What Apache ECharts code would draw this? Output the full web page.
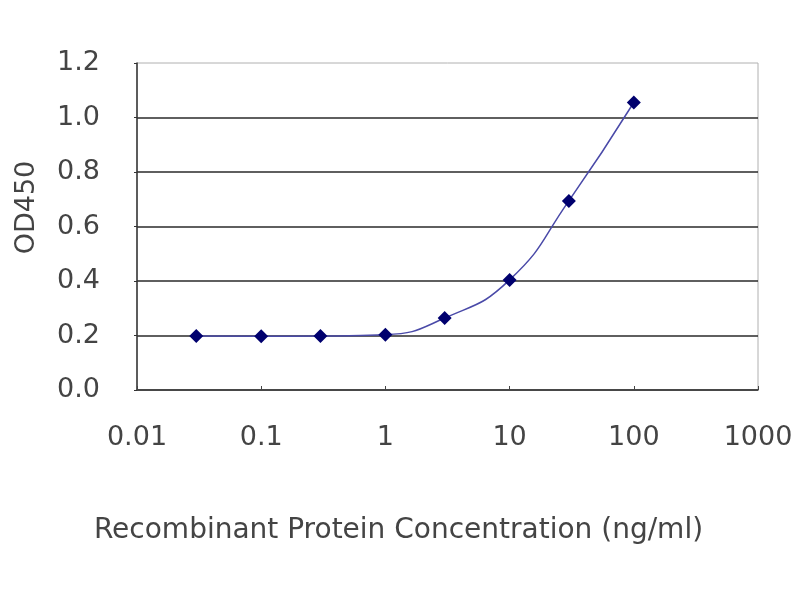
<!DOCTYPE html>
<html>
<head>
<meta charset="utf-8">
<script src="https://cdn.jsdelivr.net/npm/echarts@6/dist/echarts.min.js"></script>
<style>
  html, body { margin: 0; padding: 0; background: #fff; }
  #chart { width: 800px; height: 600px; }
</style>
</head>
<body>
<div id="chart"></div>
<script>
// concentrations (ng/ml) and OD450 readings
var concentrations = [0.03, 0.1, 0.3, 1, 3, 10, 30, 100];
var od450 = [0.198, 0.197, 0.198, 0.203, 0.264, 0.404, 0.694, 1.055];
var xTicks = [0.01, 0.1, 1, 10, 100, 1000];
var yTicks = [0, 0.2, 0.4, 0.6, 0.8, 1.0, 1.2];

var points = concentrations.map(function (c, i) { return [c, od450[i]]; });
var font = 'DejaVu Sans, Verdana, sans-serif';

var myChart = echarts.init(document.getElementById('chart'));
var option = {
    animation: false,
    backgroundColor: '#fff',
    grid: {
        left: 137, right: 42, top: 63, bottom: 210,
        show: true, borderColor: '#b0b0b0', borderWidth: 1
    },
    xAxis: {
        type: 'log',
        logBase: 10,
        min: xTicks[0],
        max: xTicks[xTicks.length - 1],
        name: 'Recombinant Protein Concentration (ng/ml)',
        nameLocation: 'middle',
        nameGap: 127,
        nameTextStyle: { fontFamily: font, fontSize: 28, color: '#444', padding: [0, 98, 0, 0] },
        axisLine: { lineStyle: { color: '#444', width: 1.5 } },
        axisTick: { inside: true, length: 4, lineStyle: { color: '#444' } },
        axisLabel: {
            fontFamily: font, fontSize: 27, color: '#444', margin: 34,
            formatter: function (v) { return String(parseFloat(v.toPrecision(6))); }
        },
        splitLine: { show: false },
        minorTick: { show: false }
    },
    yAxis: {
        type: 'value',
        min: yTicks[0],
        max: yTicks[yTicks.length - 1],
        interval: 0.2,
        name: 'OD450',
        nameLocation: 'middle',
        nameGap: 97,
        nameTextStyle: { fontFamily: font, fontSize: 27, color: '#444', padding: [0, 0, 0, 38] },
        axisLine: { show: true, lineStyle: { color: '#333', width: 1.5 } },
        axisTick: { show: true, length: 3, lineStyle: { color: '#333' } },
        axisLabel: {
            fontFamily: font, fontSize: 27, color: '#444', margin: 37,
            formatter: function (v) { return v.toFixed(1); }
        },
        splitLine: { show: true, showMaxLine: false, lineStyle: { color: '#2a2a2a', width: 1.5 } }
    },
    series: [{
        type: 'line',
        data: points,
        smooth: 0.5,
        symbol: 'diamond',
        symbolSize: 14,
        itemStyle: { color: '#00006e' },
        lineStyle: { color: '#4a4aa8', width: 1.5 }
    }]
};
myChart.setOption(option);
</script>
</body>
</html>
